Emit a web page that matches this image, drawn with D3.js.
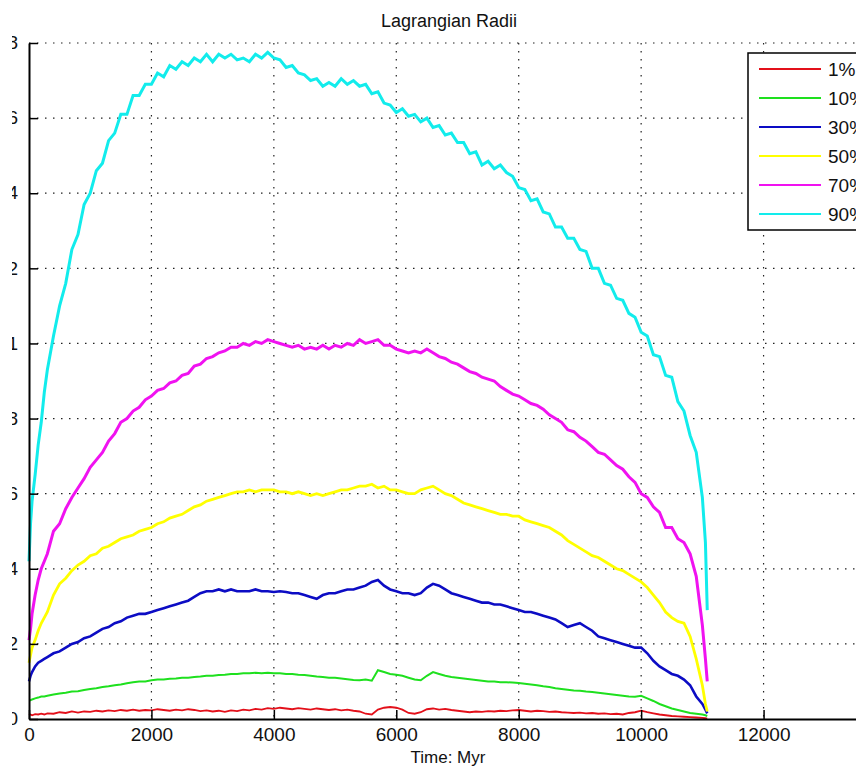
<!DOCTYPE html>
<html>
<head>
<meta charset="utf-8">
<script src="https://cdn.jsdelivr.net/npm/d3@7"></script>
<style>
  html, body { margin: 0; padding: 0; background: #fff; overflow: hidden; }
  svg { display: block; font-family: "Liberation Sans", Arial, sans-serif; }
</style>
</head>
<body>
<svg id="chart" width="856" height="778"></svg>
<script>
// Sample times (Myr)
const timeMyr = [0, 25, 50, 100, 150, 200, 250, 300,
  400, 500, 600, 700, 800, 900,
  1000, 1100, 1200, 1300, 1400, 1500, 1600, 1700, 1800, 1900,
  2000, 2100, 2200, 2300, 2400, 2500, 2600, 2700, 2800, 2900,
  3000, 3100, 3200, 3300, 3400, 3500, 3600, 3700, 3800, 3900,
  4000, 4100, 4200, 4300, 4400, 4500, 4600, 4700, 4800, 4900,
  5000, 5100, 5200, 5300, 5400, 5500, 5600, 5700, 5800, 5900,
  6000, 6100, 6200, 6300, 6400, 6500, 6600, 6700, 6800, 6900,
  7000, 7100, 7200, 7300, 7400, 7500, 7600, 7700, 7800, 7900,
  8000, 8100, 8200, 8300, 8400, 8500, 8600, 8700, 8800, 8900,
  9000, 9100, 9200, 9300, 9400, 9500, 9600, 9700, 9800, 9900,
  10000, 10100, 10200, 10300, 10400, 10500, 10600, 10700, 10800, 10900,
  11000, 11050, 11080];

// Lagrangian radii for each mass fraction
const r1 = [0.010, 0.012, 0.010, 0.013, 0.012, 0.014, 0.012, 0.015,
  0.014, 0.018, 0.016, 0.020, 0.017, 0.020,
  0.019, 0.022, 0.020, 0.023, 0.021, 0.024, 0.022, 0.025, 0.022, 0.024,
  0.023, 0.026, 0.024, 0.022, 0.025, 0.023, 0.026, 0.024, 0.021, 0.023,
  0.020, 0.022, 0.019, 0.023, 0.021, 0.025, 0.023, 0.027, 0.025, 0.029,
  0.027, 0.030, 0.028, 0.026, 0.029, 0.027, 0.025, 0.028, 0.026, 0.024,
  0.026, 0.023, 0.025, 0.022, 0.020, 0.014, 0.012, 0.025, 0.030, 0.032,
  0.030, 0.025, 0.016, 0.014, 0.018, 0.026, 0.028, 0.025, 0.027, 0.024,
  0.022, 0.020, 0.018, 0.020, 0.019, 0.021, 0.020, 0.022, 0.021, 0.023,
  0.024, 0.022, 0.020, 0.022, 0.021, 0.019, 0.020, 0.018, 0.017, 0.016,
  0.017, 0.015, 0.016, 0.014, 0.015, 0.013, 0.014, 0.012, 0.016, 0.018,
  0.022, 0.018, 0.015, 0.012, 0.010, 0.008, 0.007, 0.006, 0.005, 0.004,
  0.003, 0.002, 0.001];

const r10 = [0.050, 0.050, 0.052, 0.055, 0.057, 0.060, 0.060, 0.062,
  0.065, 0.068, 0.070, 0.073, 0.074, 0.077,
  0.080, 0.082, 0.085, 0.087, 0.090, 0.092, 0.095, 0.098, 0.100, 0.100,
  0.103, 0.105, 0.105, 0.107, 0.108, 0.110, 0.110, 0.112, 0.113, 0.115,
  0.115, 0.117, 0.118, 0.120, 0.120, 0.122, 0.122, 0.123, 0.122, 0.123,
  0.122, 0.122, 0.120, 0.120, 0.118, 0.117, 0.115, 0.113, 0.112, 0.110,
  0.110, 0.108, 0.106, 0.104, 0.103, 0.105, 0.102, 0.130, 0.125, 0.120,
  0.118, 0.115, 0.110, 0.105, 0.103, 0.115, 0.125, 0.120, 0.115, 0.112,
  0.110, 0.108, 0.106, 0.104, 0.102, 0.100, 0.100, 0.098, 0.098, 0.097,
  0.096, 0.094, 0.092, 0.090, 0.087, 0.085, 0.082, 0.080, 0.078, 0.076,
  0.075, 0.073, 0.072, 0.070, 0.068, 0.066, 0.064, 0.062, 0.060, 0.059,
  0.062, 0.055, 0.048, 0.040, 0.034, 0.028, 0.024, 0.020, 0.016, 0.014,
  0.012, 0.010, 0.008];

const r30 = [0.100, 0.115, 0.125, 0.140, 0.150, 0.155, 0.160, 0.165,
  0.175, 0.180, 0.190, 0.200, 0.205, 0.215,
  0.220, 0.230, 0.240, 0.245, 0.255, 0.260, 0.270, 0.275, 0.280, 0.280,
  0.285, 0.290, 0.295, 0.300, 0.305, 0.310, 0.315, 0.325, 0.335, 0.340,
  0.340, 0.345, 0.340, 0.345, 0.340, 0.340, 0.340, 0.345, 0.340, 0.340,
  0.338, 0.340, 0.338, 0.335, 0.335, 0.330, 0.325, 0.320, 0.330, 0.335,
  0.335, 0.340, 0.345, 0.345, 0.350, 0.355, 0.365, 0.370, 0.355, 0.345,
  0.340, 0.335, 0.335, 0.330, 0.335, 0.350, 0.360, 0.355, 0.345, 0.335,
  0.330, 0.325, 0.320, 0.315, 0.310, 0.310, 0.305, 0.305, 0.300, 0.295,
  0.290, 0.285, 0.285, 0.280, 0.275, 0.270, 0.265, 0.255, 0.245, 0.250,
  0.255, 0.245, 0.235, 0.220, 0.215, 0.210, 0.205, 0.200, 0.195, 0.190,
  0.190, 0.175, 0.155, 0.140, 0.130, 0.120, 0.115, 0.105, 0.090, 0.060,
  0.040, 0.025, 0.015];

const r50 = [0.150, 0.170, 0.190, 0.210, 0.235, 0.255, 0.270, 0.285,
  0.330, 0.360, 0.375, 0.395, 0.410, 0.420,
  0.435, 0.440, 0.455, 0.460, 0.470, 0.480, 0.485, 0.490, 0.500, 0.505,
  0.510, 0.520, 0.525, 0.535, 0.540, 0.545, 0.555, 0.565, 0.570, 0.580,
  0.585, 0.590, 0.595, 0.600, 0.605, 0.605, 0.610, 0.605, 0.610, 0.610,
  0.610, 0.605, 0.605, 0.600, 0.605, 0.600, 0.595, 0.600, 0.595, 0.600,
  0.605, 0.610, 0.610, 0.615, 0.620, 0.620, 0.625, 0.615, 0.620, 0.610,
  0.610, 0.605, 0.600, 0.600, 0.610, 0.615, 0.620, 0.610, 0.600, 0.595,
  0.585, 0.575, 0.570, 0.565, 0.560, 0.555, 0.550, 0.545, 0.545, 0.540,
  0.540, 0.530, 0.525, 0.520, 0.515, 0.510, 0.500, 0.490, 0.475, 0.465,
  0.455, 0.445, 0.435, 0.430, 0.420, 0.410, 0.400, 0.395, 0.385, 0.375,
  0.365, 0.350, 0.330, 0.310, 0.285, 0.270, 0.260, 0.255, 0.220, 0.160,
  0.090, 0.040, 0.020];

const r70 = [0.210, 0.240, 0.280, 0.330, 0.370, 0.400, 0.420, 0.440,
  0.500, 0.520, 0.560, 0.590, 0.615, 0.640,
  0.670, 0.690, 0.710, 0.740, 0.760, 0.790, 0.800, 0.820, 0.830, 0.850,
  0.860, 0.875, 0.880, 0.895, 0.900, 0.915, 0.920, 0.940, 0.945, 0.960,
  0.965, 0.975, 0.980, 0.990, 0.990, 1.000, 0.995, 1.005, 1.000, 1.010,
  1.005, 1.000, 0.995, 0.990, 0.995, 0.985, 0.990, 0.985, 0.995, 0.985,
  0.995, 0.990, 1.000, 0.995, 1.010, 1.000, 1.005, 1.010, 0.995, 0.995,
  0.985, 0.980, 0.975, 0.980, 0.975, 0.985, 0.975, 0.965, 0.960, 0.950,
  0.945, 0.935, 0.925, 0.920, 0.910, 0.905, 0.900, 0.885, 0.875, 0.865,
  0.860, 0.850, 0.840, 0.835, 0.825, 0.810, 0.800, 0.790, 0.770, 0.765,
  0.750, 0.740, 0.725, 0.710, 0.705, 0.690, 0.675, 0.665, 0.645, 0.630,
  0.600, 0.590, 0.565, 0.550, 0.510, 0.510, 0.480, 0.470, 0.440, 0.380,
  0.250, 0.160, 0.100];

const r90 = [0.420, 0.520, 0.580, 0.650, 0.730, 0.790, 0.870, 0.930,
  1.020, 1.100, 1.160, 1.250, 1.290, 1.370,
  1.400, 1.460, 1.480, 1.540, 1.560, 1.610, 1.610, 1.660, 1.660, 1.690,
  1.690, 1.720, 1.710, 1.740, 1.730, 1.750, 1.740, 1.760, 1.750, 1.770,
  1.750, 1.770, 1.760, 1.770, 1.755, 1.760, 1.750, 1.770, 1.760, 1.775,
  1.760, 1.755, 1.735, 1.740, 1.720, 1.715, 1.700, 1.705, 1.685, 1.695,
  1.685, 1.705, 1.690, 1.700, 1.685, 1.690, 1.665, 1.670, 1.640, 1.635,
  1.615, 1.625, 1.605, 1.610, 1.590, 1.600, 1.575, 1.580, 1.555, 1.560,
  1.535, 1.535, 1.505, 1.510, 1.475, 1.485, 1.465, 1.475, 1.455, 1.445,
  1.415, 1.410, 1.380, 1.385, 1.350, 1.345, 1.310, 1.310, 1.280, 1.280,
  1.250, 1.245, 1.200, 1.200, 1.160, 1.155, 1.120, 1.115, 1.080, 1.070,
  1.030, 1.020, 0.970, 0.965, 0.915, 0.910, 0.845, 0.820, 0.755, 0.710,
  0.590, 0.470, 0.290];

const seriesNames = ["1%", "10%", "30%", "50%", "70%", "90%"];
const seriesValues = [r1, r10, r30, r50, r70, r90];
const seriesColors = ["#e3101a", "#1ee01e", "#0c0cc4", "#ffff00", "#f012f0", "#12ecec"];
const seriesWidths = [1.8, 2, 2.6, 2.8, 3, 3];

const xTicks = [0, 2000, 4000, 6000, 8000, 10000, 12000];
const yTicks = [0, 0.2, 0.4, 0.6, 0.8, 1, 1.2, 1.4, 1.6, 1.8];

const svg = d3.select("#chart");
const plot = { left: 29, right: 886, top: 43, bottom: 719 };

const x = d3.scaleLinear().domain([0, 14000]).range([plot.left, plot.right]);
const y = d3.scaleLinear().domain([0, 1.8]).range([plot.bottom, plot.top]);

// The figure window's left edge hides the leading part of the y labels
svg.append("defs").append("clipPath").attr("id", "figure-edge")
  .append("rect").attr("x", 12).attr("y", 0).attr("width", 844).attr("height", 778);

// Dotted grid
const grid = svg.append("g").attr("class", "grid")
  .attr("stroke", "#222").attr("stroke-width", 1.2)
  .attr("stroke-dasharray", "1.5,6.5");
grid.selectAll("line.v").data(xTicks.filter(d => d > 0)).join("line")
  .attr("class", "v")
  .attr("x1", d => x(d)).attr("x2", d => x(d))
  .attr("y1", plot.top).attr("y2", plot.bottom);
grid.selectAll("line.h").data(yTicks.filter(d => d > 0)).join("line")
  .attr("class", "h")
  .attr("x1", plot.left).attr("x2", plot.right)
  .attr("y1", d => y(d)).attr("y2", d => y(d));

// Series
const line = d3.line()
  .x((d, i) => x(timeMyr[i]))
  .y(d => y(d));

svg.append("g").attr("class", "series")
  .selectAll("path").data(seriesValues).join("path")
  .attr("d", d => line(d))
  .attr("fill", "none")
  .attr("stroke", (d, i) => seriesColors[i])
  .attr("stroke-width", (d, i) => seriesWidths[i])
  .attr("stroke-linejoin", "miter");

// Axes
const xAxis = d3.axisBottom(x).tickValues(xTicks).tickFormat(d3.format("d"))
  .tickSizeInner(-9).tickSizeOuter(0).tickPadding(9);
const yAxis = d3.axisLeft(y).tickValues(yTicks).tickFormat(d => String(d))
  .tickSizeInner(-9).tickSizeOuter(0).tickPadding(11);

const gx = svg.append("g").attr("transform", `translate(0,${plot.bottom})`).call(xAxis);
const gyWrap = svg.append("g").attr("clip-path", "url(#figure-edge)");
const gy = gyWrap.append("g").attr("transform", `translate(${plot.left},0)`).call(yAxis);

[gx, gy].forEach(g => {
  g.select(".domain").attr("stroke", "#000").attr("stroke-width", 2);
  g.selectAll(".tick line").attr("stroke", "#000").attr("stroke-width", 1.5);
  g.selectAll(".tick text").attr("fill", "#111")
    .style("font-size", "19px")
    .style("font-family", "'Liberation Sans', Arial, sans-serif");
});
gy.selectAll(".tick text").attr("dy", "0.3em");

// Title and axis label
svg.append("text")
  .attr("x", 449).attr("y", 27)
  .attr("text-anchor", "middle")
  .style("font-size", "18px")
  .attr("fill", "#111")
  .text("Lagrangian Radii");

svg.append("text")
  .attr("x", 448).attr("y", 763)
  .attr("text-anchor", "middle")
  .style("font-size", "17px")
  .attr("fill", "#111")
  .text("Time: Myr");

// Legend
const legend = svg.append("g").attr("class", "legend").attr("transform", "translate(748,53)");
legend.append("rect")
  .attr("x", 0).attr("y", 0).attr("width", 140).attr("height", 177)
  .attr("fill", "#fff").attr("stroke", "#000").attr("stroke-width", 1.5);
const rows = legend.selectAll("g.row").data(seriesNames).join("g")
  .attr("class", "row")
  .attr("transform", (d, i) => `translate(0,${16 + i * 29})`);
rows.append("line")
  .attr("x1", 11).attr("x2", 73).attr("y1", 0).attr("y2", 0)
  .attr("stroke", (d, i) => seriesColors[i]).attr("stroke-width", 1.8);
rows.append("text")
  .attr("x", 80).attr("y", 0).attr("dy", "0.35em")
  .style("font-size", "19px").attr("fill", "#111")
  .text(d => d);
</script>
</body>
</html>
